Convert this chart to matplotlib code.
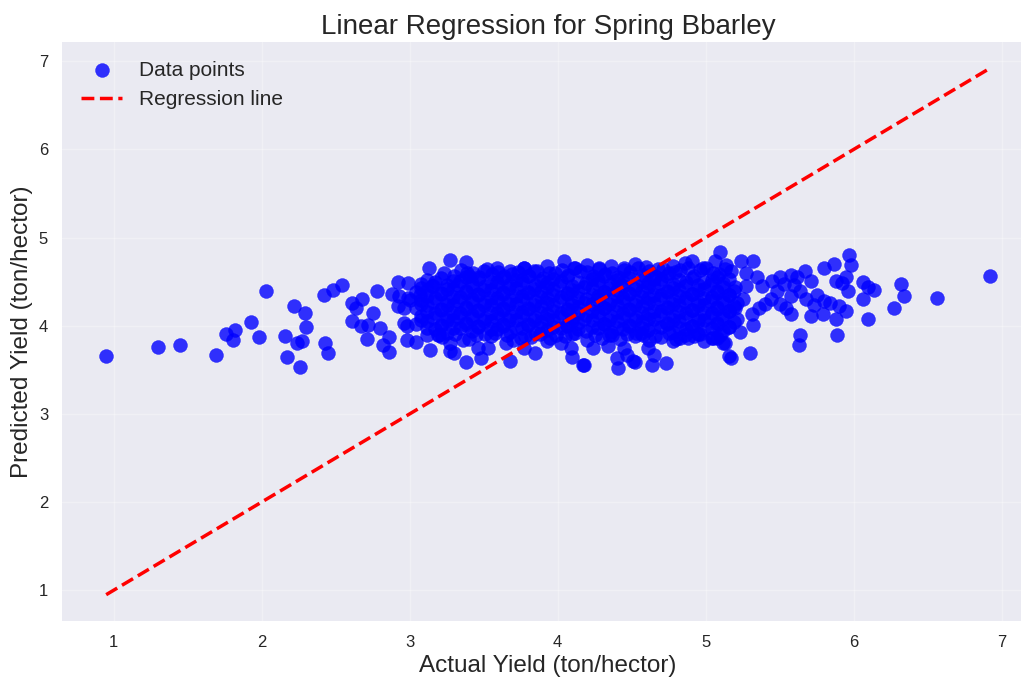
import numpy as np
import matplotlib
matplotlib.use("Agg")
import matplotlib.pyplot as plt

# low-yield tail (actual, predicted)
left_actual = [0.95, 1.30, 1.45, 1.69, 2.03, 1.93, 1.76, 1.82, 1.81, 1.98, 2.22, 2.29, 2.30, 2.16, 2.24,
               2.27, 2.17, 2.26, 2.42, 2.48, 2.54, 2.43, 2.45, 2.61, 2.64, 2.68, 2.61, 2.67, 2.72, 2.75,
               2.78, 2.71, 2.80, 2.86, 2.82, 2.86, 2.92, 2.99, 2.88, 2.93, 2.92, 3.00, 2.96, 2.98, 2.98,
               3.04, 3.07, 2.99, 2.96, 3.15]
left_pred = [3.66, 3.76, 3.78, 3.67, 4.40, 4.04, 3.91, 3.95, 3.84, 3.87, 4.22, 4.14, 3.99, 3.88, 3.80,
             3.83, 3.65, 3.53, 4.35, 4.41, 4.46, 3.81, 3.69, 4.26, 4.20, 4.30, 4.05, 4.00, 4.01, 4.15,
             4.39, 3.85, 3.98, 3.87, 3.78, 3.70, 4.50, 4.48, 4.36, 4.34, 4.22, 4.29, 4.03, 4.00, 3.84,
             3.82, 4.35, 4.32, 4.20, 4.45]

# high-yield tail
right_actual = [6.92, 6.56, 6.32, 6.34, 6.27, 6.10, 6.06, 6.06, 6.10, 6.14, 5.97, 5.98, 5.95, 5.96, 5.87,
                5.89, 5.88, 5.95, 5.90, 5.84, 5.80, 5.88, 5.64, 5.63, 5.73, 5.79, 5.71, 5.80, 5.67, 5.71,
                5.64, 5.58, 5.53, 5.58, 5.54, 5.58, 5.44, 5.45, 5.32, 5.24, 5.30, 5.17, 5.13, 5.23, 5.32,
                5.31, 5.10, 5.05, 4.99, 5.38, 5.48, 5.35, 5.40, 5.27, 5.25, 5.20, 5.27, 5.36, 5.50, 5.62,
                5.60, 5.50, 5.68, 5.75, 5.92, 5.16, 5.12]
right_pred = [4.57, 4.32, 4.47, 4.34, 4.20, 4.08, 4.50, 4.30, 4.44, 4.41, 4.80, 4.69, 4.55, 4.39, 4.70,
              3.89, 4.08, 4.17, 4.22, 4.26, 4.65, 4.51, 3.89, 3.78, 4.23, 4.13, 4.11, 4.28, 4.62, 4.51,
              4.39, 4.58, 4.47, 4.34, 4.20, 4.13, 4.30, 4.51, 4.74, 4.74, 3.69, 3.64, 3.80, 3.93, 4.01,
              4.13, 4.84, 3.86, 3.83, 4.45, 4.40, 4.55, 4.25, 4.45, 4.30, 4.20, 4.60, 4.20, 4.55, 4.55,
              4.46, 4.25, 4.30, 4.35, 4.48, 3.66, 3.81]

# lower edge of the main cloud
low_actual = [3.38, 3.48, 3.68, 3.85, 4.17, 4.10, 4.41, 4.40, 4.52, 4.64, 4.73, 3.14, 3.27, 3.30, 3.12,
              3.19, 3.36, 3.46, 3.53, 3.65, 3.75, 3.77, 3.93, 4.02, 4.18, 4.37, 4.56, 4.78, 4.88, 5.04,
              4.09, 4.24, 4.34, 4.45, 4.47, 4.61, 4.65, 4.83, 4.51, 3.27]
low_pred = [3.59, 3.64, 3.60, 3.69, 3.56, 3.65, 3.52, 3.63, 3.59, 3.55, 3.58, 3.73, 3.71, 3.69, 3.89,
            3.89, 3.84, 3.75, 3.75, 3.81, 3.86, 3.75, 3.83, 3.81, 3.56, 3.89, 3.92, 3.83, 3.86, 3.86,
            3.75, 3.75, 3.77, 3.75, 3.67, 3.75, 3.67, 3.86, 3.60, 3.81]

# dense middle of the cloud
core_actual = [
    3.13, 3.27, 3.38, 3.40, 3.23, 3.50, 3.59, 3.68, 3.77, 3.84, 3.93, 4.04, 4.12, 4.20, 4.28, 4.36, 4.45,
    4.52, 4.60, 4.68, 4.78, 4.86, 4.91, 4.98, 5.06, 5.14,
    3.30, 3.39, 3.47, 3.56, 3.64, 3.73, 3.81, 3.90, 3.98, 4.07, 4.15, 4.24, 4.32, 4.41, 4.49, 4.58, 4.66,
    4.75, 4.83, 4.92, 5.00, 5.09, 5.17,
    3.08, 3.17, 3.25, 3.34, 3.42, 3.51, 3.59, 3.68, 3.76, 3.85, 3.93, 4.02, 4.10, 4.19, 4.27, 4.36, 4.44,
    4.53, 4.61, 4.70, 4.78, 4.87, 4.95, 5.04, 5.12, 5.20,
    3.04, 3.12, 3.21, 3.29, 3.38, 3.46, 3.55, 3.63, 3.72, 3.80, 3.89, 3.97, 4.06, 4.14, 4.23, 4.31, 4.40,
    4.48, 4.57, 4.65, 4.74, 4.82, 4.91, 4.99, 5.08, 5.16,
    3.08, 3.17, 3.25, 3.34, 3.42, 3.51, 3.59, 3.68, 3.76, 3.85, 3.93, 4.02, 4.10, 4.19, 4.27, 4.36, 4.44,
    4.53, 4.61, 4.70, 4.78, 4.87, 4.95, 5.04, 5.12, 5.21,
    3.04, 3.12, 3.21, 3.29, 3.38, 3.46, 3.55, 3.63, 3.72, 3.80, 3.89, 3.97, 4.06, 4.14, 4.23, 4.31, 4.40,
    4.48, 4.57, 4.65, 4.74, 4.82, 4.91, 4.99, 5.08, 5.16,
    3.08, 3.17, 3.25, 3.34, 3.42, 3.51, 3.59, 3.68, 3.76, 3.85, 3.93, 4.02, 4.10, 4.19, 4.27, 4.36, 4.44,
    4.53, 4.61, 4.70, 4.78, 4.87, 4.95, 5.04, 5.12, 5.21,
    3.04, 3.12, 3.21, 3.29, 3.38, 3.46, 3.55, 3.63, 3.72, 3.80, 3.89, 3.97, 4.06, 4.14, 4.23, 4.31, 4.40,
    4.48, 4.57, 4.65, 4.74, 4.82, 4.91, 4.99, 5.08, 5.16,
    3.17, 3.25, 3.34, 3.42, 3.51, 3.59, 3.68, 3.76, 3.85, 3.93, 4.02, 4.10, 4.19, 4.27, 4.36, 4.44,
    4.53, 4.61, 4.70, 4.78, 4.87, 4.95, 5.04, 5.12,
    3.22, 3.40, 3.55, 3.70, 3.82, 3.95, 4.05, 4.20, 4.30, 4.42, 4.52, 4.62, 4.70, 4.80, 4.92, 5.08,
]
core_pred = [
    4.66, 4.75, 4.72, 4.57, 4.60, 4.62, 4.66, 4.62, 4.66, 4.62, 4.68, 4.74, 4.66, 4.69, 4.65, 4.68, 4.66,
    4.70, 4.67, 4.64, 4.68, 4.71, 4.74, 4.66, 4.73, 4.69,
    4.57, 4.60, 4.55, 4.59, 4.56, 4.61, 4.57, 4.54, 4.60, 4.58, 4.62, 4.56, 4.59, 4.55, 4.61, 4.58, 4.56,
    4.60, 4.63, 4.57, 4.65, 4.59, 4.62,
    4.47, 4.50, 4.46, 4.51, 4.48, 4.45, 4.50, 4.47, 4.52, 4.46, 4.49, 4.51, 4.45, 4.48, 4.52, 4.47, 4.50,
    4.46, 4.49, 4.53, 4.47, 4.50, 4.46, 4.52, 4.48, 4.44,
    4.38, 4.41, 4.37, 4.42, 4.39, 4.36, 4.41, 4.38, 4.43, 4.37, 4.40, 4.42, 4.36, 4.39, 4.43, 4.38, 4.41,
    4.37, 4.40, 4.44, 4.38, 4.41, 4.36, 4.42, 4.39, 4.35,
    4.29, 4.32, 4.28, 4.33, 4.30, 4.27, 4.32, 4.29, 4.34, 4.28, 4.31, 4.33, 4.27, 4.30, 4.34, 4.29, 4.32,
    4.28, 4.31, 4.35, 4.29, 4.32, 4.27, 4.33, 4.30, 4.26,
    4.20, 4.23, 4.19, 4.24, 4.21, 4.18, 4.23, 4.20, 4.25, 4.19, 4.22, 4.24, 4.18, 4.21, 4.25, 4.20, 4.23,
    4.19, 4.22, 4.26, 4.20, 4.23, 4.18, 4.24, 4.21, 4.17,
    4.11, 4.14, 4.10, 4.15, 4.12, 4.09, 4.14, 4.11, 4.16, 4.10, 4.13, 4.15, 4.09, 4.12, 4.16, 4.11, 4.14,
    4.10, 4.13, 4.17, 4.11, 4.14, 4.09, 4.15, 4.12, 4.08,
    4.02, 4.05, 4.01, 4.06, 4.03, 4.00, 4.05, 4.02, 4.07, 4.01, 4.04, 4.06, 4.00, 4.03, 4.07, 4.02, 4.05,
    4.01, 4.04, 4.08, 4.02, 4.05, 4.00, 4.06, 4.03, 3.99,
    3.96, 3.92, 3.97, 3.94, 3.91, 3.96, 3.93, 3.98, 3.92, 3.95, 3.97, 3.91, 3.94, 3.98, 3.93, 3.96,
    3.92, 3.95, 3.99, 3.93, 3.96, 3.91, 3.97, 3.94,
    3.87, 3.85, 3.88, 3.84, 3.87, 3.86, 3.88, 3.84, 3.86, 3.85, 3.88, 3.84, 3.87, 3.85, 3.88, 3.86,
]

# second, interleaved layer of the dense middle
mid_actual = [
    3.35, 3.43, 3.52, 3.60, 3.69, 3.77, 3.86, 3.94, 4.03, 4.11, 4.20, 4.28, 4.37, 4.45, 4.54, 4.62, 4.71,
    4.79, 4.88, 4.96, 5.05, 5.13,
    3.12, 3.21, 3.29, 3.38, 3.46, 3.55, 3.63, 3.72, 3.80, 3.89, 3.97, 4.06, 4.14, 4.23, 4.31, 4.40, 4.48,
    4.57, 4.65, 4.74, 4.82, 4.91, 4.99, 5.08, 5.16,
    3.08, 3.16, 3.25, 3.33, 3.42, 3.50, 3.59, 3.67, 3.76, 3.84, 3.93, 4.01, 4.10, 4.18, 4.27, 4.35, 4.44,
    4.52, 4.61, 4.69, 4.78, 4.86, 4.95, 5.03, 5.12, 5.19,
    3.12, 3.21, 3.29, 3.38, 3.46, 3.55, 3.63, 3.72, 3.80, 3.89, 3.97, 4.06, 4.14, 4.23, 4.31, 4.40, 4.48,
    4.57, 4.65, 4.74, 4.82, 4.91, 4.99, 5.08, 5.16,
    3.08, 3.16, 3.25, 3.33, 3.42, 3.50, 3.59, 3.67, 3.76, 3.84, 3.93, 4.01, 4.10, 4.18, 4.27, 4.35, 4.44,
    4.52, 4.61, 4.69, 4.78, 4.86, 4.95, 5.03, 5.12, 5.19,
    3.12, 3.21, 3.29, 3.38, 3.46, 3.55, 3.63, 3.72, 3.80, 3.89, 3.97, 4.06, 4.14, 4.23, 4.31, 4.40, 4.48,
    4.57, 4.65, 4.74, 4.82, 4.91, 4.99, 5.08, 5.16,
    3.08, 3.16, 3.25, 3.33, 3.42, 3.50, 3.59, 3.67, 3.76, 3.84, 3.93, 4.01, 4.10, 4.18, 4.27, 4.35, 4.44,
    4.52, 4.61, 4.69, 4.78, 4.86, 4.95, 5.03, 5.12, 5.19,
    3.12, 3.21, 3.29, 3.38, 3.46, 3.55, 3.63, 3.72, 3.80, 3.89, 3.97, 4.06, 4.14, 4.23, 4.31, 4.40, 4.48,
    4.57, 4.65, 4.74, 4.82, 4.91, 4.99, 5.08, 5.16,
    3.20, 3.31, 3.45, 3.58, 3.66, 3.78, 3.88, 3.99, 4.12, 4.25, 4.35, 4.47, 4.58, 4.66, 4.75, 4.86, 4.96,
    5.10,
]
mid_pred = [
    4.63, 4.60, 4.64, 4.61, 4.59, 4.65, 4.62, 4.60, 4.63, 4.66, 4.61, 4.64, 4.60, 4.63, 4.65, 4.62, 4.64,
    4.61, 4.66, 4.63, 4.60, 4.64,
    4.52, 4.54, 4.51, 4.55, 4.53, 4.50, 4.54, 4.52, 4.56, 4.51, 4.53, 4.55, 4.50, 4.53, 4.56, 4.52, 4.54,
    4.51, 4.53, 4.57, 4.52, 4.54, 4.50, 4.55, 4.53,
    4.43, 4.45, 4.42, 4.46, 4.44, 4.41, 4.45, 4.43, 4.47, 4.42, 4.44, 4.46, 4.41, 4.44, 4.47, 4.43, 4.45,
    4.42, 4.44, 4.48, 4.43, 4.45, 4.41, 4.46, 4.44, 4.40,
    4.34, 4.36, 4.33, 4.37, 4.35, 4.32, 4.36, 4.34, 4.38, 4.33, 4.35, 4.37, 4.32, 4.35, 4.38, 4.34, 4.36,
    4.33, 4.35, 4.39, 4.34, 4.36, 4.32, 4.37, 4.35,
    4.25, 4.27, 4.24, 4.28, 4.26, 4.23, 4.27, 4.25, 4.29, 4.24, 4.26, 4.28, 4.23, 4.26, 4.29, 4.25, 4.27,
    4.24, 4.26, 4.30, 4.25, 4.27, 4.23, 4.28, 4.26, 4.22,
    4.16, 4.18, 4.15, 4.19, 4.17, 4.14, 4.18, 4.16, 4.20, 4.15, 4.17, 4.19, 4.14, 4.17, 4.20, 4.16, 4.18,
    4.15, 4.17, 4.21, 4.16, 4.18, 4.14, 4.19, 4.17,
    4.07, 4.09, 4.06, 4.10, 4.08, 4.05, 4.09, 4.07, 4.11, 4.06, 4.08, 4.10, 4.05, 4.08, 4.11, 4.07, 4.09,
    4.06, 4.08, 4.12, 4.07, 4.09, 4.05, 4.10, 4.08, 4.04,
    3.98, 4.00, 3.97, 4.01, 3.99, 3.96, 4.00, 3.98, 4.02, 3.97, 3.99, 4.01, 3.96, 3.99, 4.02, 3.98, 4.00,
    3.97, 3.99, 4.03, 3.98, 4.00, 3.96, 4.01, 3.99,
    3.90, 3.91, 3.89, 3.92, 3.90, 3.88, 3.91, 3.89, 3.92, 3.90, 3.89, 3.91, 3.90, 3.88, 3.92, 3.90, 3.91,
    3.89,
]

y_test = np.array(left_actual + low_actual + core_actual + mid_actual + right_actual)
y_pred = np.array(left_pred + low_pred + core_pred + mid_pred + right_pred)

plt.style.use('seaborn-v0_8')
plt.rcParams['font.family'] = ['Liberation Sans', 'DejaVu Sans']

fig = plt.figure(figsize=(10.21, 6.82), dpi=100)
ax = fig.add_axes([62 / 1021, 61 / 682, 972 / 1021, 579 / 682])

ax.scatter(y_test, y_pred, color='blue', alpha=0.8, s=100, label='Data points')
ax.plot([y_test.min(), y_test.max()], [y_test.min(), y_test.max()],
        color='red', linestyle='--', linewidth=2.5, label='Regression line')

ax.set_title('Linear Regression for Spring Bbarley', fontsize=20, color='#262626')
ax.set_xlabel('Actual Yield (ton/hector)', fontsize=17.5, color='#262626')
ax.set_ylabel('Predicted Yield (ton/hector)', fontsize=17.5, color='#262626')
ax.tick_params(labelsize=12, pad=10)
ax.grid(True, alpha=0.3)
ax.legend(loc='upper left', fontsize=15)

fig.savefig('out.png', dpi=100)
